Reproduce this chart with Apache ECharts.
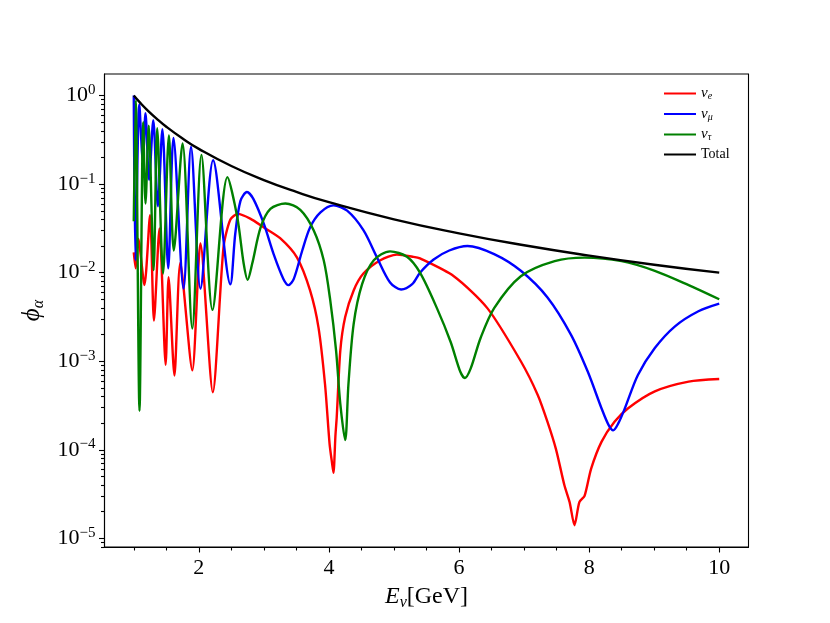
<!DOCTYPE html>
<html>
<head>
<meta charset="utf-8">
<script src="https://cdn.jsdelivr.net/npm/echarts@6/dist/echarts.min.js"></script>
<style>
html,body{margin:0;padding:0;background:#ffffff;}
#chart{width:830px;height:623px;}
</style>
</head>
<body>
<div id="chart"></div>
<script>
// ---------- data ----------
const nuE_energy = [1.000,1.03,1.07,1.164,1.25,1.31,1.395,1.49,1.535,1.625,1.715,1.90,2.025,2.215,2.38,2.485,2.60,2.79,3.00,3.25,3.51,3.71,3.84,3.94,4.01,4.05,4.07,4.10,4.12,4.175,4.25,4.38,4.53,4.79,5.045,5.30,5.40,5.92,6.435,6.95,7.21,7.36,7.49,7.62,7.70,7.775,7.85,7.93,8.03,8.19,8.39,8.60,9.01,9.53,10.0];
const nuE_phi = [0.017,0.0112,0.024,0.00724,0.0447,0.00288,0.0316,0.000912,0.0089,0.00069,0.0129,0.00079,0.0214,0.000447,0.0195,0.0398,0.0461,0.0407,0.0324,0.0245,0.0148,0.0063,0.0024,0.00055,0.000117,0.0000692,0.000055,0.000145,0.000234,0.00132,0.00316,0.0063,0.00977,0.0138,0.016,0.0151,0.0145,0.00912,0.00398,0.001,0.000417,0.000207,0.000102,0.0000398,0.0000257,0.0000141,0.0000257,0.0000302,0.000061,0.000123,0.000207,0.000295,0.000457,0.000589,0.00063];

const nuMu_energy = [1.000,1.026,1.085,1.14,1.18,1.235,1.30,1.37,1.44,1.53,1.61,1.765,1.88,2.025,2.22,2.485,2.56,2.64,2.74,2.84,3.00,3.15,3.30,3.38,3.46,3.59,3.71,3.87,4.07,4.28,4.53,4.74,4.94,5.11,5.28,5.40,5.61,5.85,6.13,6.54,6.95,7.36,7.72,7.98,8.19,8.30,8.37,8.45,8.55,8.75,9.01,9.32,9.68,10.0];
const nuMu_phi = [1.0,0.0138,0.794,0.178,0.631,0.112,0.525,0.0562,0.417,0.0112,0.331,0.0066,0.263,0.0066,0.186,0.0074,0.0275,0.0646,0.0813,0.0676,0.0355,0.0162,0.0085,0.00724,0.0085,0.0178,0.0324,0.0479,0.0575,0.0501,0.0302,0.0148,0.00776,0.00646,0.00741,0.0100,0.0141,0.0178,0.0200,0.0162,0.0105,0.00525,0.0020,0.00076,0.000295,0.00019,0.000166,0.0002,0.000295,0.0007,0.00141,0.00248,0.00367,0.00447];

const nuTau_energy = [1.000,1.03,1.088,1.145,1.18,1.23,1.305,1.36,1.45,1.54,1.615,1.75,1.90,2.04,2.21,2.44,2.59,2.69,2.75,2.82,2.95,3.10,3.33,3.56,3.765,3.92,4.02,4.11,4.175,4.25,4.30,4.38,4.51,4.69,4.94,5.20,5.40,5.66,5.87,6.02,6.09,6.18,6.33,6.54,6.95,7.47,7.93,8.50,9.01,9.53,10.0];
const nuTau_phi = [0.038,0.891,0.000275,0.501,0.0603,0.457,0.0107,0.427,0.00977,0.355,0.0178,0.288,0.00234,0.214,0.0038,0.120,0.0427,0.0126,0.0083,0.0126,0.0324,0.0525,0.0603,0.0513,0.0302,0.0138,0.0049,0.00132,0.00033,0.000129,0.00055,0.00263,0.00741,0.0138,0.0174,0.0151,0.0100,0.00398,0.00166,0.00076,0.000646,0.00083,0.00182,0.00398,0.00912,0.0135,0.0148,0.0135,0.0105,0.00724,0.00501];

const total_energy = [1.0,1.1,1.2,1.35,1.5,1.75,2.0,2.5,3.0,3.5,4.0,5.0,6.0,7.0,8.0,9.0,10.0];
const total_phi = [1.0,0.826,0.694,0.549,0.444,0.327,0.25,0.16,0.111,0.0816,0.0625,0.04,0.0278,0.0204,0.0156,0.0123,0.01];

const seriesNames = ['νe','νμ','ντ','Total'];
const legendLabels = ['{n|ν}{sub|e}','{n|ν}{sub|μ}','{n|ν}{sub|τ}','{t|Total}'];
const xMajorTicks = [2,4,6,8,10];
const xMinorTicks = [1,1.5,2.5,3,3.5,4.5,5,5.5,6.5,7,7.5,8.5,9,9.5];
const yDecadeExponents = [-5,-4,-3,-2,-1,0];

// ---------- layout / styling ----------
const X_MIN = 0.55, X_MAX = 10.45;
const Y_LOG_MIN = -5.097, Y_LOG_MAX = 0.243;
const SERIF = "'Liberation Serif','DejaVu Serif',serif";
const LINE_W = 2.4;

const yMinorTicks = [];
for (let d = -6; d <= 0; d++) {
  for (let k = 2; k <= 9; k++) {
    const p = d + Math.log10(k);
    if (p >= Y_LOG_MIN && p <= Y_LOG_MAX) yMinorTicks.push(p);
  }
}

function pairs(xs, ys) { return xs.map((x, i) => [x, ys[i]]); }

const chart = echarts.init(document.getElementById('chart'), null, {renderer: 'canvas'});

const tickStyle = {color: '#000', width: 1.1};

function lineSeries(idx, xs, ys, color, smooth) {
  return {
    name: seriesNames[idx], type: 'line', xAxisIndex: 0, yAxisIndex: 0,
    data: pairs(xs, ys), showSymbol: false, smooth: smooth,
    lineStyle: {color: color, width: LINE_W}, itemStyle: {color: color},
    emphasis: {disabled: true}
  };
}

const option = {
  animation: false,
  backgroundColor: '#ffffff',
  grid: {
    left: 104.5, right: 81.5, top: 74, bottom: 76,
    show: true, borderColor: '#000', borderWidth: 1.1, backgroundColor: '#fff',
    containLabel: false, outerBoundsMode: 'none'
  },
  legend: {
    orient: 'vertical',
    left: 659, top: 81,
    itemWidth: 32, itemHeight: 2, itemGap: 5,
    icon: 'rect',
    data: seriesNames,
    formatter: function (name) { return legendLabels[seriesNames.indexOf(name)]; },
    textStyle: {
      color: '#000',
      padding: [0, 0, 0, 0],
      rich: {
        n: {fontFamily: SERIF, fontStyle: 'italic', fontSize: 15, lineHeight: 16, color: '#000'},
        sub: {fontFamily: SERIF, fontStyle: 'italic', fontSize: 10, lineHeight: 9, verticalAlign: 'bottom', color: '#000'},
        t: {fontFamily: SERIF, fontSize: 14, lineHeight: 16, color: '#000'}
      }
    }
  },
  xAxis: [
    {
      type: 'value', min: X_MIN, max: X_MAX, position: 'bottom',
      axisLine: {show: true, onZero: false, lineStyle: tickStyle},
      axisTick: {show: true, length: 5.5, inside: false, customValues: xMajorTicks, lineStyle: tickStyle},
      axisLabel: {show: true, customValues: xMajorTicks, margin: 10, color: '#000', fontFamily: SERIF, fontSize: 22},
      splitLine: {show: false},
      name: '{i|E}{sub|ν}{r|[GeV]}',
      nameLocation: 'middle', nameGap: 36,
      nameTextStyle: {
        rich: {
          i: {fontFamily: SERIF, fontStyle: 'italic', fontSize: 24, lineHeight: 28, color: '#000'},
          sub: {fontFamily: SERIF, fontStyle: 'italic', fontSize: 16, lineHeight: 14, verticalAlign: 'bottom', color: '#000'},
          r: {fontFamily: SERIF, fontSize: 24, lineHeight: 28, color: '#000'}
        }
      }
    },
    {
      type: 'value', min: X_MIN, max: X_MAX, position: 'bottom',
      axisLine: {show: false, onZero: false},
      axisTick: {show: true, length: 3.5, inside: false, customValues: xMinorTicks, lineStyle: tickStyle},
      axisLabel: {show: false},
      splitLine: {show: false}
    }
  ],
  yAxis: [
    {
      type: 'log', logBase: 10,
      min: Math.pow(10, Y_LOG_MIN), max: Math.pow(10, Y_LOG_MAX),
      position: 'left',
      axisLine: {show: false}, axisTick: {show: false}, axisLabel: {show: false},
      splitLine: {show: false}, minorTick: {show: false}, minorSplitLine: {show: false}
    },
    {
      type: 'value', min: Y_LOG_MIN, max: Y_LOG_MAX, position: 'left',
      axisLine: {show: true, onZero: false, lineStyle: tickStyle},
      axisTick: {show: true, length: 5.5, inside: false, customValues: yDecadeExponents, lineStyle: tickStyle},
      axisLabel: {
        show: true, customValues: yDecadeExponents, margin: 9,
        formatter: function (v) {
          const e = Math.round(v);
          return '{b|10}{s|' + (e < 0 ? '\u2212' + (-e) : String(e)) + '}';
        },
        rich: {
          b: {fontFamily: SERIF, fontSize: 22, lineHeight: 26, color: '#000'},
          s: {fontFamily: SERIF, fontSize: 15, lineHeight: 12, verticalAlign: 'top', color: '#000'}
        }
      },
      splitLine: {show: false},
      name: '{i|ϕ}{sub|α}',
      nameLocation: 'middle', nameGap: 58, nameRotate: 90,
      nameTextStyle: {
        rich: {
          i: {fontFamily: SERIF, fontStyle: 'italic', fontSize: 25, lineHeight: 28, color: '#000'},
          sub: {fontFamily: SERIF, fontStyle: 'italic', fontSize: 16, lineHeight: 14, verticalAlign: 'bottom', color: '#000'}
        }
      }
    },
    {
      type: 'value', min: Y_LOG_MIN, max: Y_LOG_MAX, position: 'left',
      axisLine: {show: false, onZero: false},
      axisTick: {show: true, length: 3.5, inside: false, customValues: yMinorTicks, lineStyle: tickStyle},
      axisLabel: {show: false},
      splitLine: {show: false}
    }
  ],
  series: [
    lineSeries(0, nuE_energy, nuE_phi, '#ff0000', 0.25),
    lineSeries(1, nuMu_energy, nuMu_phi, '#0000ff', 0.3),
    lineSeries(2, nuTau_energy, nuTau_phi, '#008000', 0.3),
    lineSeries(3, total_energy, total_phi, '#000000', true)
  ]
};
chart.setOption(option);
</script>
</body>
</html>
